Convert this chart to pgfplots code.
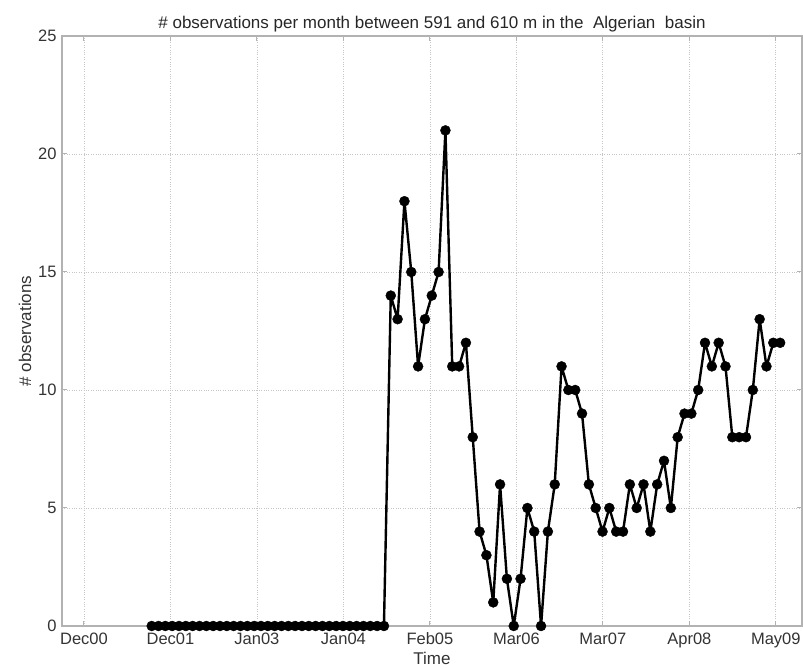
\documentclass[border=0pt]{standalone}
\usepackage{pgfplots}
\pgfplotsset{compat=1.18}
\usepackage{fontspec}
\setmainfont{Liberation Sans}
\begin{document}
\fontsize{16}{19}\selectfont
\begin{tikzpicture}
\begin{axis}[
  scale only axis,
  width=740pt, height=590pt,
  xmin=-13.13, xmax=95.2,
  ymin=0, ymax=25,
  xtick={-9.91,2.75,15.41,28.07,40.73,53.39,66.05,78.71,91.37},
  xticklabels={Dec00,Dec01,Jan03,Jan04,Feb05,Mar06,Mar07,Apr08,May09},
  ytick={0,5,10,15,20,25},
  /pgf/number format/assume math mode=true,
  tick label style={font=\fontsize{16.5}{19}\selectfont, text=black!80},
  label style={font=\fontsize{17}{20}\selectfont, text=black!80},
  title style={font=\fontsize{17}{20}\selectfont, text=black!85, yshift=-8pt},
  title={\# observations per month between 591 and 610 m in the\ \ Algerian\ \ basin},
  xlabel={Time},
  ylabel={\# observations},
  xlabel style={yshift=6pt},
  ylabel style={yshift=-4pt},
  grid=major,
  major grid style={gray!45, dotted, line width=0.8pt},
  axis line style={gray!60, line width=1.3pt},
  tick style={gray!60, line width=1pt},
  tick align=inside,
  major tick length=5pt,
  xticklabel style={yshift=-1pt},
]
\addplot[black, line width=2.4pt, line join=round, mark=*, mark size=5pt, mark options={fill=black, line width=0.4pt}] coordinates {
(0,0)(1,0)(2,0)(3,0)(4,0)(5,0)(6,0)(7,0)(8,0)(9,0)
(10,0)(11,0)(12,0)(13,0)(14,0)(15,0)(16,0)(17,0)(18,0)(19,0)
(20,0)(21,0)(22,0)(23,0)(24,0)(25,0)(26,0)(27,0)(28,0)(29,0)
(30,0)(31,0)(32,0)(33,0)(34,0)
(35,14)(36,13)(37,18)(38,15)(39,11)(40,13)(41,14)(42,15)(43,21)(44,11)
(45,11)(46,12)(47,8)(48,4)(49,3)(50,1)(51,6)(52,2)(53,0)(54,2)
(55,5)(56,4)(57,0)(58,4)(59,6)(60,11)(61,10)(62,10)(63,9)(64,6)
(65,5)(66,4)(67,5)(68,4)(69,4)(70,6)(71,5)(72,6)(73,4)(74,6)
(75,7)(76,5)(77,8)(78,9)(79,9)(80,10)(81,12)(82,11)(83,12)(84,11)
(85,8)(86,8)(87,8)(88,10)(89,13)(90,11)(91,12)(92,12)
};
\end{axis}
\pgfresetboundingbox
\useasboundingbox ([xshift=-62pt,yshift=-43pt]current axis.south west) rectangle ([xshift=1pt,yshift=36pt]current axis.north east);
\end{tikzpicture}
\end{document}
